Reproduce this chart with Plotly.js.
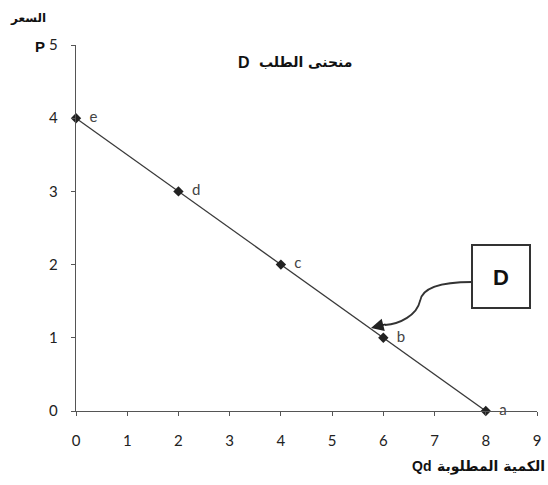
<!DOCTYPE html>
<html><head><meta charset="utf-8">
<script src="https://cdn.plot.ly/plotly-3.0.1.min.js"></script>
<style>body{margin:0;background:#fff}#c{width:548px;height:485px}</style>
</head><body><div id="c"></div>
<script>
const quantity = [0, 2, 4, 6, 8];
const price = [4, 3, 2, 1, 0];
const pointLabels = ['e', 'd', 'c', 'b', 'a'];
const xTicks = [0,1,2,3,4,5,6,7,8,9];
const yTicks = [0,1,2,3,4,5];
const titleAr = 'منحنى الطلب';
const titleD = 'D';
const xTitleQ = 'Qd';
const xTitleAr = 'الكمية المطلوبة';
const yTitleAr = 'السعر';
const yTitleP = 'P';
const boxLabel = 'D';

const L = 76, R = 537, T = 45, B = 411;
const W = R - L, H = B - T;
const tickFont = {family:'Lato, Open Sans, sans-serif', size:15, color:'#222'};
const trace = {
  x: quantity, y: price, mode:'lines+markers+text',
  text: pointLabels.map(l => '\u2002' + l), textposition:'middle right',
  textfont:{family:'Lato, sans-serif', size:15, color:'#444'},
  line:{color:'#3a3a3a', width:1.3},
  marker:{symbol:'diamond', size:8, color:'#222'},
  hoverinfo:'skip', cliponaxis:false
};
const P = (x, y) => ({x:(x-L)/W, y:(B-y)/H});
function ann(px, py, text, font, xanchor) {
  const p = P(px, py);
  return {xref:'paper', yref:'paper', x:p.x, y:p.y, xanchor:xanchor||'center', yanchor:'middle',
          text:text, showarrow:false, font:font};
}
const head = P(371, 328);
const layout = {
  width:548, height:485,
  margin:{l:L, r:548-R, t:T, b:485-B},
  paper_bgcolor:'#fff', plot_bgcolor:'#fff',
  showlegend:false,
  xaxis:{range:[0,9], tickvals:xTicks, showgrid:false, zeroline:false,
    showline:true, linecolor:'#555', linewidth:1.2, ticks:'outside', ticklen:4,
    tickcolor:'#555', tickfont:tickFont, ticklabelstandoff:12, fixedrange:true},
  yaxis:{range:[0,5], tickvals:yTicks, showgrid:false, zeroline:false,
    showline:true, linecolor:'#555', linewidth:1.2, ticks:'outside', ticklen:4,
    tickcolor:'#555', tickfont:tickFont, ticklabelstandoff:10, fixedrange:true},
  annotations:[
    ann(305, 62, '<b>'+titleAr+'</b>', {family:'DejaVu Sans', size:14, color:'#111'}),
    ann(244, 62, '<b>'+titleD+'</b>', {family:'Liberation Sans', size:16, color:'#111'}),
    ann(421, 466, '<b>'+xTitleQ+'</b>', {family:'Liberation Sans', size:14, color:'#111'}),
    ann(435, 466, '<b>'+xTitleAr+'</b>', {family:'DejaVu Sans', size:14, color:'#111'}, 'left'),
    ann(28, 18, '<b>'+yTitleAr+'</b>', {family:'DejaVu Sans', size:12, color:'#111'}),
    ann(40, 46, '<b>'+yTitleP+'</b>', {family:'Liberation Sans', size:15, color:'#111'}),
    ann(501, 277, '<b>'+boxLabel+'</b>', {family:'Liberation Sans', size:22, color:'#111'}),
    {xref:'paper', yref:'paper', x:head.x, y:head.y, ax:16, ay:-4, text:'',
     showarrow:true, arrowhead:2, arrowsize:1.4, arrowwidth:1.8, arrowcolor:'#222', standoff:0}
  ],
  shapes:[
    {type:'rect', xref:'paper', yref:'paper', x0:P(472,0).x, x1:P(530,0).x,
     y0:P(0,308).y, y1:P(0,245).y, line:{color:'#333', width:2}},
    {type:'path', xref:'paper', yref:'paper',
     path:(function(){
       const p=(x,y)=>{const q=P(x,y); return q.x.toFixed(4)+','+q.y.toFixed(4);};
       return 'M'+p(472,282)+' C'+p(440,282)+' '+p(422,288)+' '+p(420,301)+
              ' C'+p(417,315)+' '+p(400,324)+' '+p(385,325);
     })(),
     line:{color:'#333', width:1.8}}
  ]
};
Plotly.newPlot('c', [trace], layout, {displayModeBar:false, staticPlot:true});
</script></body></html>
